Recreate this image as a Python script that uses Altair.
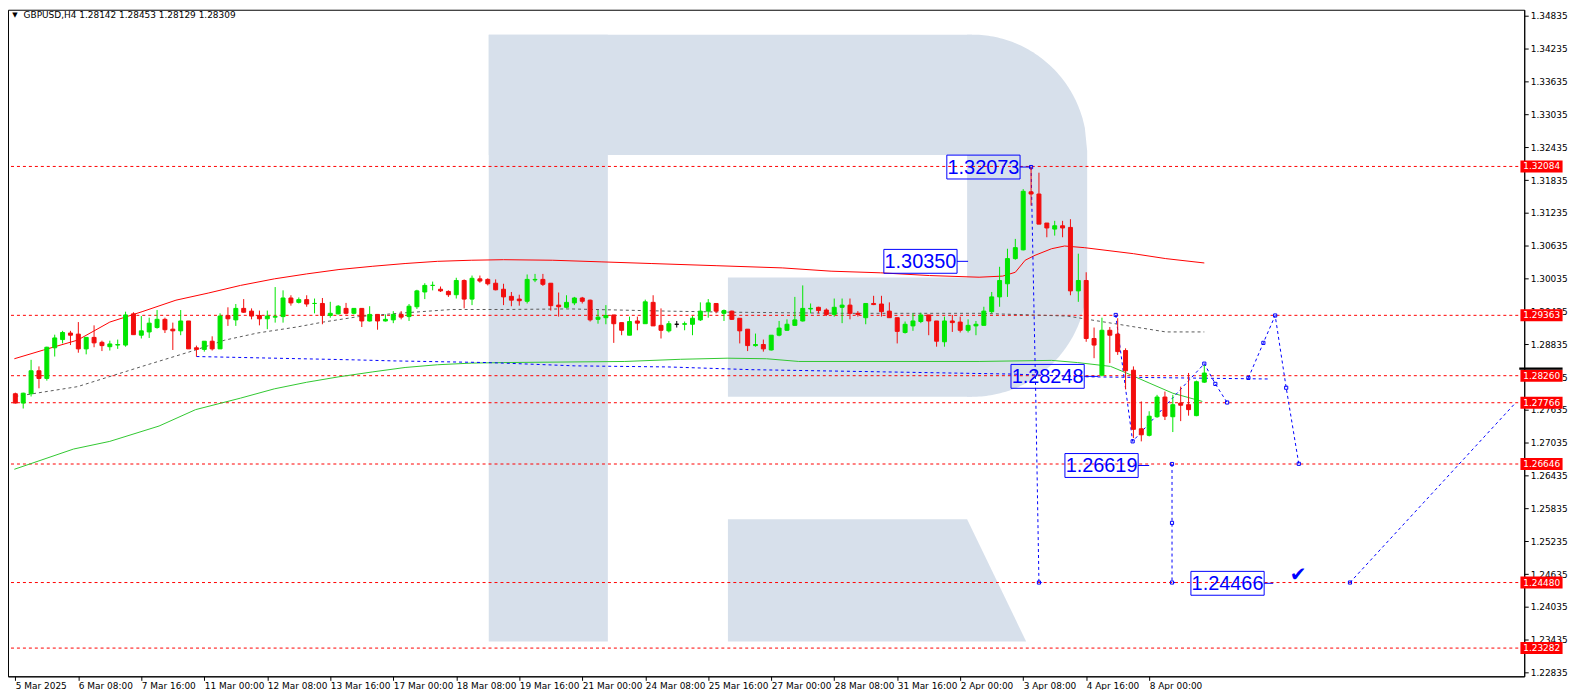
import json
import numpy as np
import pandas as pd
import altair as alt

# ---------------------------------------------------------------- data
chart_title = "GBPUSD,H4  1.28142 1.28453 1.28129 1.28309"

candle_open = [
    1.2793, 1.2776, 1.2793, 1.2835, 1.2821, 1.2877, 1.2892, 1.2904, 1.2902, 1.2875,
    1.2896, 1.2887, 1.2879, 1.2882, 1.2882, 1.2939, 1.2900, 1.2906, 1.2914, 1.2929,
    1.2911, 1.2908, 1.2926, 1.2877, 1.2874, 1.2889, 1.2875, 1.2936, 1.2928, 1.2949,
    1.2944, 1.2936, 1.2930, 1.2933, 1.2934, 1.2968, 1.2960, 1.2965, 1.2958, 1.2958,
    1.2936, 1.2939, 1.2949, 1.2940, 1.2949, 1.2926, 1.2938, 1.2926, 1.2928, 1.2938,
    1.2934, 1.2952, 1.2979, 1.2991, 1.2984, 1.2980, 1.2974, 1.3000, 1.2966, 1.3003,
    1.3002, 1.2995, 1.2984, 1.2971, 1.2966, 1.2962, 1.3001, 1.3002, 1.2995, 1.2955,
    1.2951, 1.2959, 1.2968, 1.2964, 1.2929, 1.2932, 1.2937, 1.2923, 1.2900, 1.2926,
    1.2921, 1.2960, 1.2918, 1.2908, 1.2920, 1.2920, 1.2920, 1.2928, 1.2944, 1.2958,
    1.2940, 1.2944, 1.2931, 1.2911, 1.2881, 1.2883, 1.2873, 1.2900, 1.2909, 1.2918,
    1.2926, 1.2948, 1.2951, 1.2946, 1.2938, 1.2951, 1.2955, 1.2940, 1.2932, 1.2958,
    1.2957, 1.2944, 1.2932, 1.2905, 1.2917, 1.2925, 1.2937, 1.2926, 1.2888, 1.2926,
    1.2924, 1.2909, 1.2917, 1.2918, 1.2943, 1.2970, 1.2994, 1.3040, 1.3056, 1.3162,
    1.3158, 1.3105, 1.3094, 1.3100, 1.3097, 1.2981, 1.3000, 1.2894, 1.2827, 1.2909,
    1.2902, 1.2872, 1.2836, 1.2729, 1.2717, 1.2751, 1.2787, 1.2751, 1.2776, 1.2773,
    1.2753, 1.28142,
]
candle_high = [
    1.2795, 1.2795, 1.2855, 1.2843, 1.2879, 1.2901, 1.2908, 1.2908, 1.2924, 1.2896,
    1.2918, 1.2890, 1.2890, 1.2892, 1.2943, 1.2942, 1.2935, 1.2932, 1.2946, 1.2932,
    1.2923, 1.2946, 1.2926, 1.2881, 1.2889, 1.2898, 1.2940, 1.2951, 1.2957, 1.2966,
    1.2949, 1.2945, 1.2945, 1.2988, 1.2982, 1.2973, 1.2969, 1.2973, 1.2967, 1.2968,
    1.2961, 1.2955, 1.2959, 1.2949, 1.2949, 1.2953, 1.2938, 1.2938, 1.2944, 1.2944,
    1.2957, 1.2983, 1.2995, 1.2998, 1.2989, 1.2982, 1.3005, 1.3002, 1.3009, 1.3009,
    1.3004, 1.3002, 1.2994, 1.2979, 1.2974, 1.3011, 1.3012, 1.3012, 1.2995, 1.2978,
    1.2973, 1.2970, 1.2970, 1.2965, 1.2946, 1.2955, 1.2937, 1.2923, 1.2934, 1.2934,
    1.2965, 1.2973, 1.2949, 1.2926, 1.2926, 1.2925, 1.2935, 1.2960, 1.2966, 1.2958,
    1.2947, 1.2945, 1.2931, 1.2911, 1.2903, 1.2892, 1.2900, 1.2926, 1.2929, 1.2970,
    1.2991, 1.2958, 1.2952, 1.2949, 1.2967, 1.2967, 1.2967, 1.2944, 1.2958, 1.2972,
    1.2972, 1.2960, 1.2932, 1.2925, 1.2940, 1.2941, 1.2937, 1.2926, 1.2934, 1.2937,
    1.2934, 1.2929, 1.2926, 1.2952, 1.2979, 1.3025, 1.3058, 1.3076, 1.3167, 1.32073,
    1.3197, 1.3105, 1.3109, 1.3109, 1.3112, 1.3049, 1.3015, 1.2914, 1.2932, 1.2915,
    1.2931, 1.2876, 1.2843, 1.2779, 1.2761, 1.2791, 1.2797, 1.2791, 1.2806, 1.2831,
    1.2817, 1.28453,
]
candle_low = [
    1.2775, 1.2766, 1.2788, 1.2803, 1.2817, 1.2861, 1.2885, 1.2882, 1.2868, 1.2865,
    1.2878, 1.2871, 1.2872, 1.2875, 1.2879, 1.2901, 1.2894, 1.2895, 1.2912, 1.2904,
    1.2873, 1.2900, 1.2875, 1.2861, 1.2870, 1.2872, 1.2875, 1.2917, 1.2917, 1.2941,
    1.2929, 1.2918, 1.2911, 1.2923, 1.2923, 1.2954, 1.2958, 1.2952, 1.2940, 1.2920,
    1.2932, 1.2938, 1.2938, 1.2938, 1.2915, 1.2925, 1.2910, 1.2925, 1.2922, 1.2929,
    1.2926, 1.2948, 1.2966, 1.2982, 1.2979, 1.2970, 1.2967, 1.2949, 1.2955, 1.2996,
    1.2991, 1.2982, 1.2955, 1.2953, 1.2954, 1.2958, 1.2997, 1.2990, 1.2945, 1.2934,
    1.2949, 1.2955, 1.2958, 1.2925, 1.2921, 1.2920, 1.2886, 1.2900, 1.2900, 1.2909,
    1.2921, 1.2917, 1.2894, 1.2905, 1.2914, 1.2909, 1.2900, 1.2926, 1.2932, 1.2940,
    1.2926, 1.2928, 1.2885, 1.2871, 1.2879, 1.2870, 1.2872, 1.2898, 1.2908, 1.2917,
    1.2925, 1.2940, 1.2940, 1.2935, 1.2934, 1.2922, 1.2929, 1.2934, 1.2920, 1.2955,
    1.2934, 1.2932, 1.2885, 1.2903, 1.2908, 1.2922, 1.2900, 1.2879, 1.2879, 1.2906,
    1.2905, 1.2905, 1.2900, 1.2918, 1.2940, 1.2952, 1.2970, 1.3038, 1.3055, 1.3137,
    1.3103, 1.3079, 1.3082, 1.3079, 1.2973, 1.2961, 1.2888, 1.2858, 1.28248, 1.2849,
    1.2864, 1.2801, 1.2712, 1.2706, 1.2715, 1.2749, 1.2745, 1.2723, 1.2743, 1.2753,
    1.2752, 1.28129,
]
candle_close = [
    1.2776, 1.2794, 1.2835, 1.2821, 1.2878, 1.2895, 1.2905, 1.2900, 1.2875, 1.2896,
    1.2886, 1.2881, 1.2884, 1.2883, 1.2937, 1.2901, 1.2908, 1.2922, 1.2929, 1.2910,
    1.2908, 1.2926, 1.2875, 1.2874, 1.2889, 1.2875, 1.2935, 1.2930, 1.2949, 1.2942,
    1.2935, 1.2930, 1.2935, 1.2934, 1.2968, 1.2959, 1.2965, 1.2957, 1.29581, 1.2936,
    1.2940, 1.2953, 1.2940, 1.2949, 1.2926, 1.2938, 1.2926, 1.2929, 1.2938, 1.2933,
    1.2953, 1.2981, 1.2991, 1.29911, 1.2981, 1.2974, 1.3000, 1.2966, 1.3004, 1.2999,
    1.2994, 1.2983, 1.2970, 1.2964, 1.2963, 1.3002, 1.3002, 1.2993, 1.2954, 1.2952,
    1.2960, 1.2968, 1.2962, 1.2928, 1.2933, 1.2936, 1.2921, 1.2909, 1.2925, 1.2922,
    1.2961, 1.2917, 1.2909, 1.2921, 1.2920, 1.2921, 1.2931, 1.2944, 1.2959, 1.2944,
    1.2945, 1.2929, 1.2908, 1.2881, 1.2883, 1.2875, 1.2900, 1.2913, 1.2920, 1.2928,
    1.2949, 1.2949, 1.2945, 1.2938, 1.2951, 1.2955, 1.2940, 1.2938, 1.2958, 1.2956,
    1.2943, 1.2932, 1.2907, 1.2920, 1.2926, 1.2937, 1.2926, 1.2889, 1.2926, 1.2923,
    1.2909, 1.2918, 1.2920, 1.2944, 1.2970, 1.3000, 1.3040, 1.3060, 1.3163, 1.3158,
    1.3103, 1.3096, 1.3100, 1.3096, 1.2981, 1.3000, 1.2894, 1.2882, 1.2909, 1.2900,
    1.2870, 1.2835, 1.2728, 1.2718, 1.2752, 1.2787, 1.2752, 1.2773, 1.2772, 1.2764,
    1.2815, 1.28309,
]

time_labels = [
    "5 Mar 2025", "6 Mar 08:00", "7 Mar 16:00", "11 Mar 00:00", "12 Mar 08:00",
    "13 Mar 16:00", "17 Mar 00:00", "18 Mar 08:00", "19 Mar 16:00", "21 Mar 00:00",
    "24 Mar 08:00", "25 Mar 16:00", "27 Mar 00:00", "28 Mar 08:00", "31 Mar 16:00",
    "2 Apr 00:00", "3 Apr 08:00", "4 Apr 16:00", "8 Apr 00:00",
]
bars_per_label = 8

price_ticks = [
    1.22835, 1.23435, 1.24035, 1.24635, 1.25235, 1.25835, 1.26435, 1.27035,
    1.27635, 1.28235, 1.28835, 1.29435, 1.30035, 1.30635, 1.31235, 1.31835,
    1.32435, 1.33035, 1.33635, 1.34235, 1.34835,
]

level_prices = [1.32084, 1.29363, 1.28260, 1.27766, 1.26646, 1.24480, 1.23282]

red_ma_bar = [-0.125, 3.6, 7.9, 12, 16.1, 20.4, 24.5, 28.6, 32.9, 37, 41.1, 45.4,
              49.5, 53.6, 57.9, 62, 68.25, 74.5, 80.75, 89.1, 97.4, 103.6, 109.9,
              116.1, 122.4, 125.4, 127, 128.25, 129.5, 131.6, 133.25, 135.75, 142,
              146.1, 151]
red_ma_val = [1.2857, 1.2873, 1.2891, 1.2924, 1.2943, 1.2964, 1.2977, 1.2991, 1.3003,
              1.3012, 1.3020, 1.3026, 1.3031, 1.3035, 1.3037, 1.3038, 1.3037, 1.3034,
              1.3031, 1.3027, 1.3023, 1.3017, 1.3014, 1.3009, 1.3006, 1.3008, 1.3015,
              1.3037, 1.3046, 1.3058, 1.3063, 1.3060, 1.3049, 1.3040, 1.3032]

green_ma_bar = [-0.125, 7.4, 12, 18.25, 22.9, 28.6, 32.9, 37, 41.1, 45.4, 49.5, 53.6,
                57.9, 62, 77.4, 84.5, 90.4, 95.4, 99.5, 122.4, 131.6, 134.9, 139.1,
                141.1, 144.1, 147, 150.75]
green_ma_val = [1.2655, 1.2692, 1.2706, 1.2734, 1.2764, 1.2785, 1.2802, 1.2814, 1.2824,
                1.2833, 1.2841, 1.2846, 1.2849, 1.2850, 1.2852, 1.2856, 1.2858, 1.2857,
                1.2852, 1.2852, 1.2854, 1.2850, 1.2843, 1.2831, 1.2812, 1.2794, 1.2779]

gray_line_bar = [0, 7.9, 16.1, 22.9, 26.6, 30.75, 35.75, 39.1, 43.6, 48.6, 55.4, 62,
                 70.4, 82.9, 91.1, 105.75, 122.4, 133.6, 146.1, 151]
gray_line_val = [1.2788, 1.2806, 1.2843, 1.2873, 1.2891, 1.2904, 1.2915, 1.2924, 1.2934,
                 1.2940, 1.2947, 1.2947, 1.2948, 1.2944, 1.2942, 1.2940, 1.2940, 1.2935,
                 1.2906, 1.2906]

trend_bar = [23, 42.9, 48.25, 59.9, 62, 71, 82.9, 93.5, 110.25, 126.5, 136, 159.1]
trend_val = [1.2861, 1.2855, 1.2853, 1.2850, 1.2849, 1.2844, 1.2842, 1.2837, 1.2833,
             1.2829, 1.2824, 1.2820]

# forecast drawing (dotted blue paths)
forecast_paths = {
    "high_drop": ([129, 129.6, 130, 130.4], [1.32073, 1.2785, 1.2448, 1.2448]),
    "pullback": ([139.75, 141.9, 151, 152.4, 153.9], [1.2937, 1.2706, 1.2848, 1.2811, 1.2777]),
    "swing": ([156.6, 158.5, 160, 161.4, 163], [1.2822, 1.2886, 1.2936, 1.2804, 1.2665]),
    "target": ([169.5, 190.5], [1.2448, 1.2776]),
    "second_drop": ([146.9, 146.9, 147.3], [1.26646, 1.2448, 1.2448]),
}
marker_bar = [129, 130, 139.75, 141.9, 151, 152.4, 153.9, 156.6, 158.5, 160, 161.4,
              163, 169.5, 146.9, 146.9, 146.9]
marker_val = [1.32073, 1.2448, 1.2937, 1.2706, 1.2848, 1.2811, 1.2777, 1.2822, 1.2886,
              1.2936, 1.2804, 1.2665, 1.2448, 1.26646, 1.2557, 1.2448]

label_texts = ["1.32073", "1.30350", "1.28248", "1.26619", "1.24466"]
label_prices = [1.32073, 1.30350, 1.28248, 1.26619, 1.24466]
label_box_end = [127.6, 119.6, 135.75, 142.6, 158.6]
label_link_end = [129, 121, 137.5, 144, 159.75]

check_bar, check_val = 162.9, 1.2462

# ---------------------------------------------------------------- frames
n = len(candle_open)
candles = pd.DataFrame({
    "bar": np.arange(n),
    "open": candle_open, "high": candle_high,
    "low": candle_low, "close": candle_close,
})
candles["dir"] = np.where(candles.close > candles.open, "up",
                          np.where(candles.close < candles.open, "down", "doji"))

FONT = "DejaVu Sans"
BLUE = "#0000ff"
XS = alt.Scale(domain=[-0.3, 191], nice=False, zero=False)
YS = alt.Scale(domain=[1.22766, 1.34948], nice=False, zero=False)

x_axis = alt.Axis(
    values=[i * bars_per_label for i in range(len(time_labels))],
    labelExpr=f"{json.dumps(time_labels)}[round(datum.value / {bars_per_label})]",
    title=None, grid=False, orient="bottom", tickSize=4, tickColor="black",
    domainColor="black", labelFont=FONT, labelFontSize=9, labelColor="black",
    labelAlign="left", labelPadding=1, labelFlush=False, labelOverlap=False,
    labelBaseline="top", labelBound=False)
y_axis = alt.Axis(
    values=price_ticks, format=".5f", title=None, grid=False, orient="right",
    tickSize=4, tickColor="black", domainColor="black", labelFont=FONT,
    labelFontSize=9, labelColor="black", labelPadding=2, labelFlush=False,
    labelOverlap=False, labelBound=False)


def X(f="bar", **kw):
    return alt.X(f, type="quantitative", scale=XS, axis=x_axis, **kw)


def Y(f, **kw):
    return alt.Y(f, type="quantitative", scale=YS, axis=y_axis, **kw)


color_scale = alt.Scale(domain=["up", "down", "doji"],
                        range=["#00e600", "#f20d0d", "#000000"])

# watermark logo (in chart units)
def wm_i(px):
    return (px - 4) / 8.0


def wm_p(py):
    return 1.35093 - py / 5500.0


wm_rects = pd.DataFrame({
    "x0": [wm_i(485), wm_i(485), wm_i(728)],
    "x1": [wm_i(606), wm_i(976), wm_i(976)],
    "y0": [wm_p(33), wm_p(33), wm_p(277)],
    "y1": [wm_p(643), wm_p(154), wm_p(397)],
})
px = np.concatenate([[971], np.linspace(976, 1093, 50)])
rad = 117.0
dx = np.clip(px - 976, 0, None)
arc = np.sqrt(np.clip(rad ** 2 - dx ** 2, 0, None))
top = np.where(px < 976, 33, 150 - arc)
bot = np.where(px < 976, 397, 280 + arc)
wm_bowl = pd.DataFrame({"bar": wm_i(px), "top": wm_p(top), "bot": wm_p(bot)})
wm_leg = pd.DataFrame({"bar": [wm_i(728), wm_i(971), wm_i(1031)],
                       "top": [wm_p(520), wm_p(520), wm_p(643)],
                       "bot": [wm_p(643), wm_p(643), wm_p(643)]})
WM = "#d7e0eb"

wm1 = alt.Chart(wm_rects).mark_rect(color=WM).encode(
    x=X("x0"), x2="x1", y=Y("y0"), y2="y1")
wm2 = alt.Chart(wm_bowl).mark_area(color=WM).encode(x=X(), y=Y("top"), y2="bot")
wm3 = alt.Chart(wm_leg).mark_area(color=WM).encode(x=X(), y=Y("top"), y2="bot")

# level lines
levels = pd.DataFrame({"level": level_prices})
level_rules = alt.Chart(levels).mark_rule(
    color="#ff0000", strokeWidth=1, strokeDash=[3, 3]).encode(y=Y("level"))


def line_layer(bars, vals, color, dash=None, width=1):
    df = pd.DataFrame({"bar": bars, "v": vals, "o": range(len(bars))})
    kw = dict(color=color, strokeWidth=width)
    if dash:
        kw["strokeDash"] = dash
    return alt.Chart(df).mark_line(**kw).encode(x=X(), y=Y("v"), order="o:Q")


green_ma = line_layer(green_ma_bar, green_ma_val, "#30c830")
red_ma = line_layer(red_ma_bar, red_ma_val, "#ff0000")
gray_line = line_layer(gray_line_bar, gray_line_val, "#5a5a5a", [3, 3])
trend_line = line_layer(trend_bar, trend_val, BLUE, [3, 3])

fc_rows = []
for name, (bs, vs) in forecast_paths.items():
    for k, (b, v) in enumerate(zip(bs, vs)):
        fc_rows.append({"path": name, "bar": b, "v": v, "o": k})
fc_df = pd.DataFrame(fc_rows)
forecast = alt.Chart(fc_df).mark_line(color=BLUE, strokeWidth=1, strokeDash=[3, 3]).encode(
    x=X(), y=Y("v"), detail="path:N", order="o:Q")

markers = alt.Chart(pd.DataFrame({"bar": marker_bar, "v": marker_val})).mark_point(
    shape="square", filled=False, size=10, color=BLUE, strokeWidth=1, opacity=1
).encode(x=X(), y=Y("v"))

# candles
wicks = alt.Chart(candles).mark_rule(strokeWidth=1).encode(
    x=X(), y=Y("low"), y2="high:Q",
    color=alt.Color("dir:N", scale=color_scale, legend=None))
bodies = alt.Chart(candles).mark_bar(size=4, strokeWidth=1).encode(
    x=X(), y=Y("open"), y2="close",
    color=alt.Color("dir:N", scale=color_scale, legend=None),
    stroke=alt.Stroke("dir:N", scale=color_scale, legend=None))

# price labels (blue boxes)
lab = pd.DataFrame({"text": label_texts, "price": label_prices,
                    "end": label_box_end, "link": label_link_end})
box_half = 12 / 5500.0
box_w = 9.3
lab_boxes = alt.Chart(lab).transform_calculate(
    x0=f"datum.end - {box_w}", yt=f"datum.price + {box_half}", yb=f"datum.price - {box_half}"
).mark_rect(fill="white", fillOpacity=0, stroke=BLUE, strokeWidth=1).encode(
    x=X("x0:Q"), x2="end:Q", y=Y("yt:Q"), y2="yb:Q")
lab_text = alt.Chart(lab).transform_calculate(xc=f"datum.end - {box_w / 2}").mark_text(
    font="Liberation Sans", fontSize=20, color=BLUE,
    align="center", baseline="middle", dy=1
).encode(x=X("xc:Q"), y=Y("price"), text="text:N")
lab_links = alt.Chart(lab).mark_rule(color=BLUE, strokeWidth=1).encode(
    x=X("end"), x2="link:Q", y=Y("price"))

check = alt.Chart(pd.DataFrame({"bar": [check_bar], "v": [check_val], "t": ["\u2714"]})).mark_text(
    font=FONT, fontSize=20, color=BLUE, align="center", baseline="middle").encode(
    x=X(), y=Y("v"), text="t:N")

# red price tags on the right scale
tag_half = 6 / 5500.0
tags = alt.Chart(levels).transform_calculate(
    yt=f"datum.level + {tag_half}", yb=f"datum.level - {tag_half}",
    x0="191.15", x1="196.5", xc="193.85", txt="format(datum.level, '.5f')")
tag_rects = tags.mark_rect(color="#ff0000").encode(
    x=X("x0:Q"), x2="x1:Q", y=Y("yt:Q"), y2="yb:Q")
tag_text = tags.mark_text(font=FONT, fontSize=9, color="white", align="center",
                          baseline="middle").encode(x=X("xc:Q"), y=Y("level"), text="txt:N")
bid_bar = alt.Chart(pd.DataFrame({"x0": [191.0], "x1": [196.5], "y0": [1.2837], "y1": [1.2841]})
                    ).mark_rect(color="black").encode(x=X("x0"), x2="x1", y=Y("y0"), y2="y1")

# header
head = pd.DataFrame({"bar": [-0.05, 1.05], "v": [1.34857, 1.34857], "t": ["\u25bc", chart_title]})
header_tri = alt.Chart(head.iloc[[0]]).mark_text(font=FONT, fontSize=7, color="black",
                                                 align="center", baseline="middle").encode(
    x=X(), y=Y("v"), text="t:N")
header_txt = alt.Chart(head.iloc[[1]]).mark_text(font=FONT, fontSize=9, color="black",
                                                 align="left", baseline="middle").encode(
    x=X(), y=Y("v"), text="t:N")

chart = alt.layer(
    wm1, wm2, wm3, level_rules, green_ma, red_ma, gray_line, trend_line,
    forecast, markers, wicks, bodies, lab_boxes, lab_links, lab_text, check,
    tag_rects, bid_bar, tag_text, header_tri, header_txt,
).properties(
    width=1524, height=670,
    padding={"left": 0, "top": 0, "right": 46, "bottom": 12},
    autosize=alt.AutoSizeParams(type="none"),
    background="white",
).configure_view(stroke="black", strokeWidth=1)

chart.save("out.html", embed_options={"renderer": "svg", "actions": False})
